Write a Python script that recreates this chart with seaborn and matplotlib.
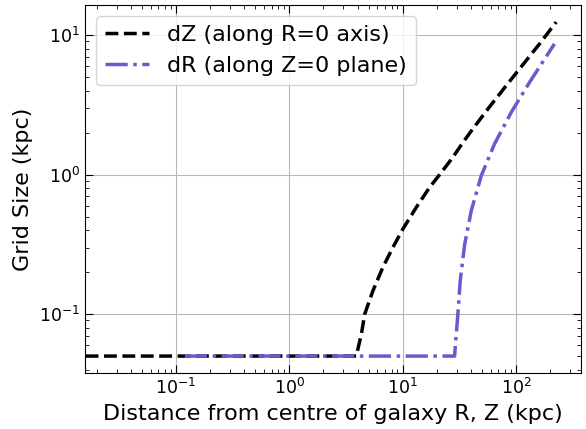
import matplotlib
matplotlib.use("Agg")
import matplotlib.pyplot as plt
import seaborn as sns
import pandas as pd

# Grid spacing along the vertical axis (R = 0)
dz_dist = [0.016, 0.5, 3.9, 4.33, 4.63, 5.47, 6.70, 8.21, 10.06, 13.2, 17.3,
           21.2, 27.7, 34.0, 41.6, 60.0, 82.0, 100.4, 161.0, 226.0]
dz_size = [0.05, 0.05, 0.05, 0.0721, 0.1, 0.147, 0.217, 0.301, 0.408, 0.583, 0.811,
           1.0, 1.33, 1.70, 2.13, 3.15, 4.35, 5.35, 8.65, 12.4]

# Grid spacing along the mid-plane (Z = 0)
dr_dist = [0.12, 5.0, 28.7, 29.7, 30.7, 32.2, 35.2, 40.3, 49.3, 64.6, 90.8,
           131.5, 218.0]
dr_size = [0.05, 0.05, 0.05, 0.072, 0.1, 0.174, 0.315, 0.552, 0.98, 1.66, 2.80,
           4.59, 8.65]

label_dz = "dZ (along R=0 axis)"
label_dr = "dR (along Z=0 plane)"

sns.set_style("ticks")
plt.rcParams.update({"text.color": "black", "axes.labelcolor": "black",
                     "xtick.color": "black", "ytick.color": "black"})

fig, ax = plt.subplots(figsize=(5.86, 4.29), dpi=100)
fig.subplots_adjust(left=0.145, right=0.9915, top=0.988, bottom=0.1305)

df_z = pd.DataFrame({"d": dz_dist, "s": dz_size})
df_r = pd.DataFrame({"d": dr_dist, "s": dr_size})

sns.lineplot(data=df_z, x="d", y="s", ax=ax, color="black", lw=2.5,
             linestyle="--", label=label_dz, sort=False)
sns.lineplot(data=df_r, x="d", y="s", ax=ax, color="slateblue", lw=2.5,
             linestyle="-.", label=label_dr, sort=False)

ax.set_xscale("log")
ax.set_yscale("log")
ax.set_xlim(0.0158, 374)
ax.set_ylim(0.0378, 16.4)

ax.grid(True, which="major", color="#b8b8b8", lw=0.8)
ax.tick_params(which="both", direction="in", top=True, right=True,
               labelsize=12.5, colors="black")
ax.tick_params(which="major", length=6)
ax.tick_params(which="minor", length=3)
for sp in ax.spines.values():
    sp.set_color("black")
    sp.set_linewidth(0.8)

ax.set_xlabel("Distance from centre of galaxy R, Z (kpc)", fontsize=16, color="black")
ax.set_ylabel("Grid Size (kpc)", fontsize=16, color="black")
leg = ax.legend(loc="upper left", fontsize=16, handlelength=2.0)
for t in leg.get_texts():
    t.set_color("black")

fig.savefig("out.png", dpi=100)
